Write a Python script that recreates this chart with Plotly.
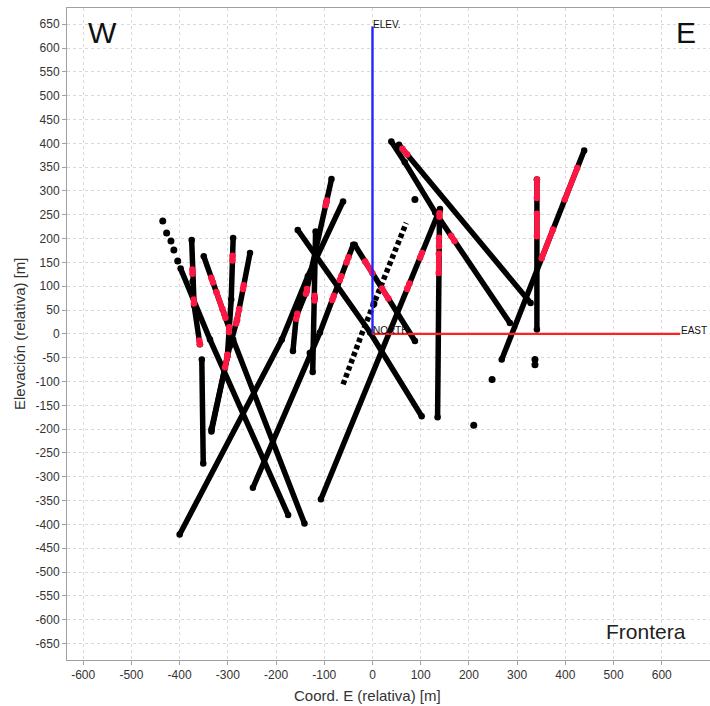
import plotly.graph_objects as go

# ---------------------------------------------------------------------------
# Drill-hole traces projected onto the E-W section (Coord. E, Elevación) [m]
# ---------------------------------------------------------------------------
HOLE_A_TOP = [(-435, 237), (-427, 212), (-418, 195), (-412, 176), (-404, 153)]
HOLE_A = [(-398, 137), (-337, -12), (-175, -380)]
HOLE_B = [(-350, 163), (-289, -12), (-141, -398)]
HOLE_C1 = [(-375, 197), (-373, 110), (-370, 60), (-358, -22)]
HOLE_C2 = [(-354, -54), (-351, -272)]
HOLE_D = [(-289, 201), (-293, 72), (-301, -47), (-334, -205)]
HOLE_E = [(-254, 170), (-281, 29), (-296, -26), (-334, -200)]
HOLE_Q = [(-400, -421), (-188, -12), (-134, 121), (-61, 278)]
HOLE_F1 = [(-85, 325), (-96, 275), (-137, 89), (-158, 37), (-165, -36)]
HOLE_F2 = [(-248, -323), (-130, -40), (-109, 3), (-40, 187)]
HOLE_G = [(-155, 218), (-5, 3), (102, -173)]
HOLE_V1 = [(-118, 215), (-120, 75), (-124, -80)]
HOLE_H = [(-61, -106), (-23, -2), (70, 233)]
HOLE_I = [(-37, 187), (88, -15)]
HOLE_F3 = [(-107, -347), (140, 262)]
HOLE_V2 = [(139, 258), (135, -175)]
HOLE_K1 = [(39, 404), (67, 360), (130, 255), (285, 23)]
HOLE_K2 = [(55, 397), (328, 65)]
HOLE_L = [(341, 324), (341, 9)]
HOLE_M = [(439, 385), (268, -54)]
LOOSE_SAMPLES = [(3, 63), (88, 282), (210, -192), (248, -96), (337, -54), (337, -65)]

SOLID_HOLES = [HOLE_A, HOLE_B, HOLE_C1, HOLE_C2, HOLE_D, HOLE_E, HOLE_Q,
               HOLE_F1, HOLE_F2, HOLE_G, HOLE_V1, HOLE_I, HOLE_F3, HOLE_V2,
               HOLE_K1, HOLE_K2, HOLE_L, HOLE_M]

# Mineralised intervals (highlighted in red)
MINERAL_INTERVALS = [
    [(-373.7, 135), (-373.5, 126)], [(-370.8, 72), (-370.3, 64)], [(-359.2, -14), (-358, -22)],
    [(-334.3, 118), (-330.8, 108)], [(-323.8, 88), (-311.3, 52)], [(-307.8, 42), (-305, 34)],
    [(-290.2, 164), (-290.5, 154)], [(-297, 14), (-297.6, 4)], [(-300.8, -44), (-301, -47), (-305.8, -70)],
    [(-267, 102), (-268.6, 94)], [(-276.6, 52), (-281, 29), (-282.9, 22)],
    [(-95, 280), (-97.1, 270)], [(-135.9, 94), (-138.1, 84)], [(-156, 42), (-158.4, 32)],
    [(-120, 80), (-120.1, 70)],
    [(-49.8, 161), (-53.9, 150)], [(-64.8, 121), (-67.8, 113)], [(-80.1, 80), (-83.5, 71)],
    [(-15.3, 152), (-0.1, 127)], [(19.9, 95), (32.9, 74)],
    [(71.9, 94), (76.8, 106)], [(98.7, 160), (102.7, 170)],
    [(139, 253), (139, 246)], [(138, 202), (138, 184)], [(137.5, 168), (137.3, 128)],
    [(163, 206), (170, 195)],
    [(62, 388.5), (72, 376.3)],
    [(341, 324), (341, 285)], [(341, 252), (341, 205)],
    [(424.6, 348), (398.9, 282)], [(374.3, 219), (351, 159)],
]

# Reference axes drawn inside the section
ELEV_AXIS_X = [0, 0]
ELEV_AXIS_Y = [0, 645]
EAST_AXIS_X = [0, 638]
EAST_AXIS_Y = [0, 0]

X_TICKS = list(range(-600, 601, 100))
Y_TICKS = list(range(-650, 651, 50))
X_TICK_TEXT = [str(v) for v in X_TICKS]
Y_TICK_TEXT = [str(v) for v in Y_TICKS]

FONT = "Liberation Sans, Arial, sans-serif"
BLACK = "#000000"
RED = "#ff1744"

fig = go.Figure()


def xs(pts):
    return [p[0] for p in pts]


def ys(pts):
    return [p[1] for p in pts]


for hole in SOLID_HOLES:
    fig.add_trace(go.Scatter(
        x=xs(hole), y=ys(hole), mode="lines+markers",
        line=dict(color=BLACK, width=5.5),
        marker=dict(color=BLACK, size=6.5),
        hoverinfo="skip", showlegend=False))

# sparsely sampled hole
fig.add_trace(go.Scatter(
    x=xs(HOLE_H), y=ys(HOLE_H), mode="lines",
    line=dict(color=BLACK, width=5.5, dash="4.5px,3px"),
    hoverinfo="skip", showlegend=False))

fig.add_trace(go.Scatter(
    x=xs(HOLE_A_TOP + LOOSE_SAMPLES), y=ys(HOLE_A_TOP + LOOSE_SAMPLES),
    mode="markers", marker=dict(color=BLACK, size=7),
    hoverinfo="skip", showlegend=False))

for seg in MINERAL_INTERVALS:
    fig.add_trace(go.Scatter(
        x=xs(seg), y=ys(seg), mode="lines+markers",
        line=dict(color=RED, width=5.5),
        marker=dict(color=RED, size=6.5),
        hoverinfo="skip", showlegend=False))

fig.add_trace(go.Scatter(
    x=ELEV_AXIS_X, y=ELEV_AXIS_Y, mode="lines",
    line=dict(color="#2323ff", width=2.4),
    hoverinfo="skip", showlegend=False))
fig.add_trace(go.Scatter(
    x=EAST_AXIS_X, y=EAST_AXIS_Y, mode="lines",
    line=dict(color="#ff2222", width=2.4),
    hoverinfo="skip", showlegend=False))

axis_common = dict(
    showgrid=True, gridcolor="#d9d9d9", griddash="dot", gridwidth=1,
    showline=True, linecolor="#a0a0a0", linewidth=1,
    ticks="outside", ticklen=4, tickcolor="#a0a0a0",
    tickfont=dict(family=FONT, size=12, color="#333333"),
    zeroline=False,
)

fig.update_layout(
    width=710, height=706,
    margin=dict(l=67, r=0, t=8, b=46),
    paper_bgcolor="white", plot_bgcolor="white",
    xaxis=dict(range=[-633.6, 700], tickmode="array",
               tickvals=X_TICKS, ticktext=X_TICK_TEXT, mirror=True, **axis_common),
    yaxis=dict(range=[-684.5, 684], tickmode="array",
               tickvals=Y_TICKS, ticktext=Y_TICK_TEXT, **axis_common),
    font=dict(family=FONT),
)

annotations = [
    dict(text="W", x=-593, y=633, xref="x", yref="y", xanchor="left", yanchor="middle",
         font=dict(size=30, color="#111111")),
    dict(text="E", x=673, y=633, xref="x", yref="y", xanchor="right", yanchor="middle",
         font=dict(size=30, color="#111111")),
    dict(text="Frontera", x=652, y=-624, xref="x", yref="y", xanchor="right", yanchor="middle",
         font=dict(size=21, color="#222222")),
    dict(text="ELEV.", x=0, y=649, xref="x", yref="y", xanchor="left", yanchor="middle",
         font=dict(size=10, color="#111111")),
    dict(text="NORTH", x=0, y=8, xref="x", yref="y", xanchor="left", yanchor="middle",
         font=dict(size=10, color="#111111")),
    dict(text="EAST", x=638, y=8, xref="x", yref="y", xanchor="left", yanchor="middle",
         font=dict(size=10, color="#111111")),
    dict(text="Coord. E (relativa) [m]", x=-10, y=-0.0537, xref="x", yref="paper",
         xanchor="center", yanchor="middle", font=dict(size=15, color="#333333")),
    dict(text="Elevación (relativa) [m]", x=-0.0746, y=0.5, xref="paper", yref="paper",
         xanchor="center", yanchor="middle", textangle=-90,
         font=dict(size=15, color="#333333")),
]
for a in annotations:
    a.update(showarrow=False, borderpad=0)
fig.update_layout(annotations=annotations)

fig.write_html("out.html")
